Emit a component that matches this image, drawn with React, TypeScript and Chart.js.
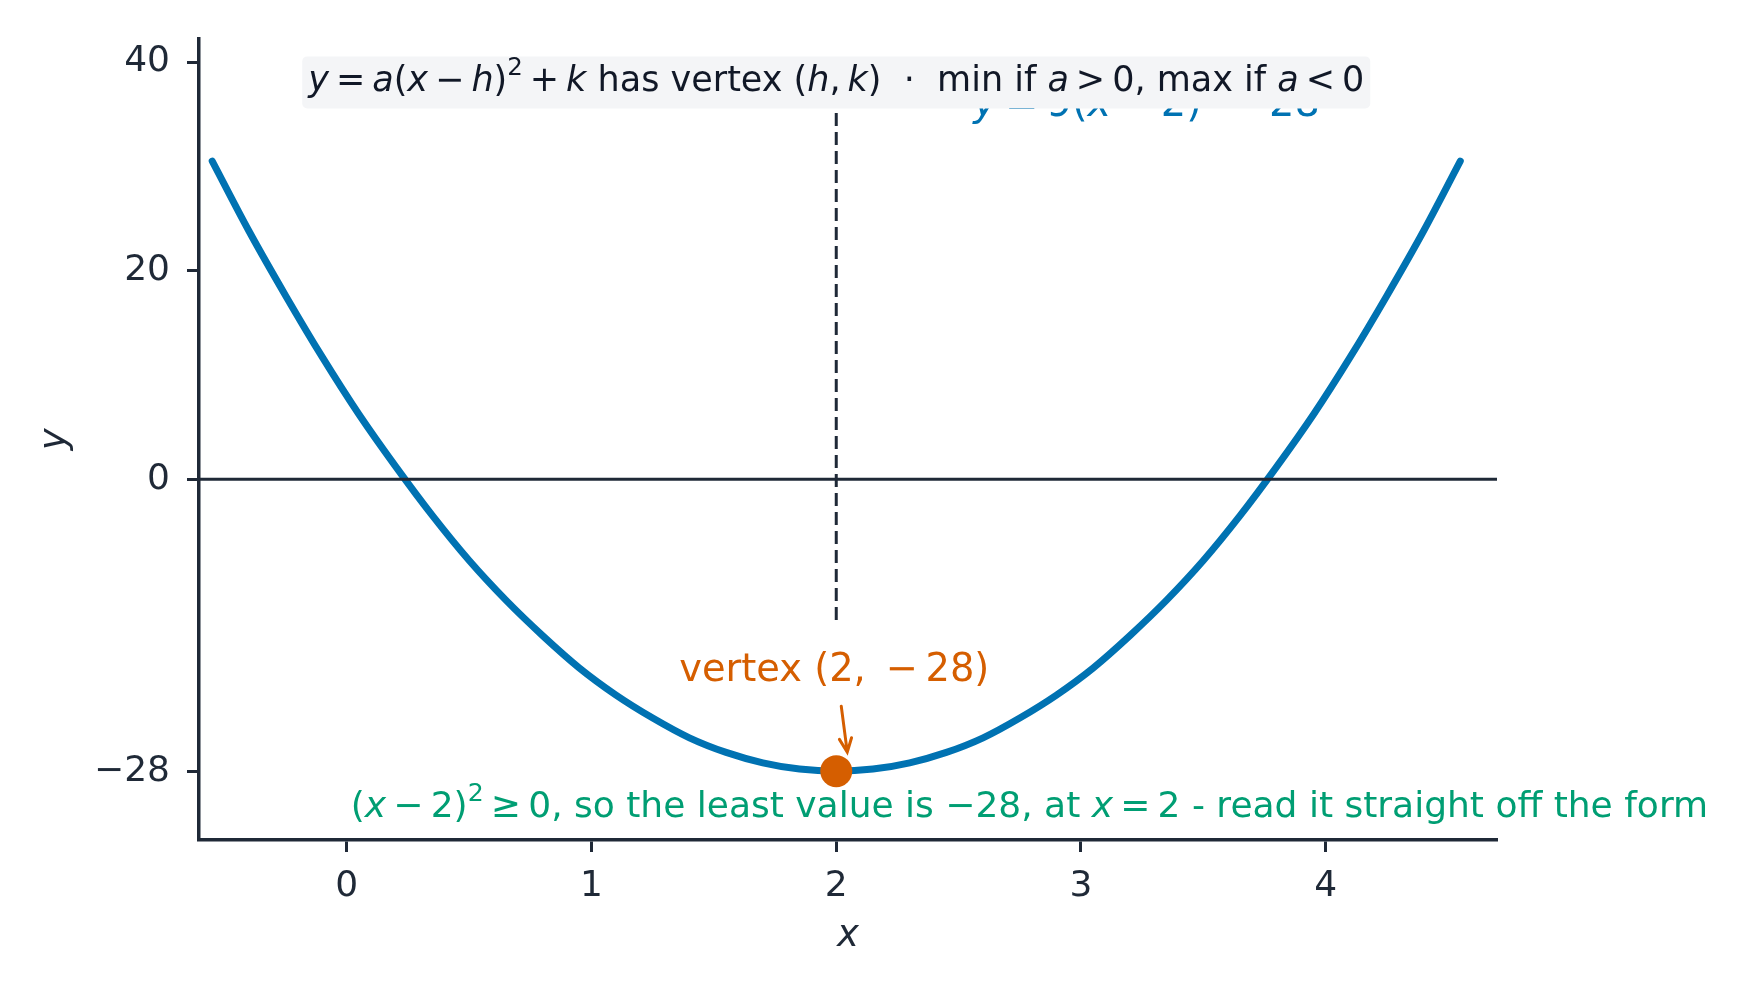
import { useEffect, useRef } from "react";
import { Chart, registerables } from "chart.js";

Chart.register(...registerables);

const W = 1752;
const H = 999;

// curve y = 9(x - 2)^2 - 28
const curveX = [
  -0.55, -0.4, -0.25, -0.1, 0.05, 0.2, 0.35, 0.5, 0.65, 0.8, 0.95, 1.1, 1.25, 1.4, 1.55, 1.7, 1.85,
  2.0, 2.15, 2.3, 2.45, 2.6, 2.75, 2.9, 3.05, 3.2, 3.35, 3.5, 3.65, 3.8, 3.95, 4.1, 4.25, 4.4, 4.55,
];
const curveY = [
  30.5, 23.8, 17.6, 11.7, 6.2, 1.2, -3.5, -7.8, -11.6, -15.0, -18.1, -20.7, -22.9, -24.8, -26.2, -27.2, -27.8,
  -28.0, -27.8, -27.2, -26.2, -24.8, -22.9, -20.7, -18.1, -15.0, -11.6, -7.8, -3.5, 1.2, 6.2, 11.7, 17.6, 23.8, 30.5,
];
const vertexX = [2];
const vertexY = [-28];
const guideX = [2, 2];
const guideY = [-13.5, 40];
const xTicks = [0, 1, 2, 3, 4];
const yTicks = [-28, 0, 20, 40];

const INK = "#1f2937";
const BLUE = "#0072B2";
const ORANGE = "#D55E00";
const GREEN = "#009E73";
const FONT = '"DejaVu Sans", sans-serif';
const TS = "\u2009"; // thin space, like mathtext around operators

type Run = { t: string; it?: boolean; sup?: boolean };

function runFont(r: Run, size: number) {
  const s = r.sup ? size * 0.7 : size;
  return `${r.it ? "italic " : ""}${s}px ${FONT}`;
}

function runsWidth(ctx: CanvasRenderingContext2D, runs: Run[], size: number) {
  let w = 0;
  for (const r of runs) {
    ctx.font = runFont(r, size);
    w += ctx.measureText(r.t).width;
  }
  return w;
}

function drawRuns(
  ctx: CanvasRenderingContext2D,
  runs: Run[],
  x: number,
  y: number,
  size: number,
  color: string,
  align: "left" | "center"
) {
  const w = runsWidth(ctx, runs, size);
  let cx = align === "center" ? x - w / 2 : x;
  ctx.fillStyle = color;
  ctx.textAlign = "left";
  ctx.textBaseline = "middle";
  for (const r of runs) {
    ctx.font = runFont(r, size);
    ctx.fillText(r.t, cx, r.sup ? y - size * 0.38 : y);
    cx += ctx.measureText(r.t).width;
  }
  return w;
}

const curveLabel: Run[] = [
  { t: "y", it: true }, { t: `${TS}=${TS}9(` }, { t: "x", it: true }, { t: `${TS}−${TS}2)` },
  { t: "2", sup: true }, { t: `${TS}−${TS}28` },
];
const boxLabel: Run[] = [
  { t: "y", it: true }, { t: `${TS}=${TS}` }, { t: "a", it: true }, { t: "(" }, { t: "x", it: true },
  { t: `${TS}−${TS}` }, { t: "h", it: true }, { t: ")" }, { t: "2", sup: true }, { t: `${TS}+${TS}` },
  { t: "k", it: true }, { t: " has vertex (" }, { t: "h", it: true }, { t: `,${TS}` }, { t: "k", it: true },
  { t: ")  ·  min if " }, { t: "a", it: true }, { t: `${TS}>${TS}0, max if ` }, { t: "a", it: true },
  { t: `${TS}<${TS}0` },
];
const vertexLabel: Run[] = [{ t: `vertex (2, ${TS}−${TS}28)` }];
const noteLabel: Run[] = [
  { t: "(" }, { t: "x", it: true }, { t: `${TS}−${TS}2)` }, { t: "2", sup: true },
  { t: `${TS}≥${TS}0, so the least value is −28, at ` }, { t: "x", it: true },
  { t: `${TS}=${TS}2 - read it straight off the form` },
];

const notes = {
  id: "notes",
  afterDatasetsDraw(chart: any) {
    const { ctx, chartArea, scales } = chart;
    const xs = scales.x;
    const ys = scales.y;
    ctx.save();

    // zero line
    const y0 = ys.getPixelForValue(0);
    ctx.strokeStyle = INK;
    ctx.lineWidth = 3;
    ctx.beginPath();
    ctx.moveTo(chartArea.left, y0);
    ctx.lineTo(chartArea.right, y0);
    ctx.stroke();

    const vx = xs.getPixelForValue(vertexX[0]);
    const vy = ys.getPixelForValue(vertexY[0]);

    // vertex label and arrow
    drawRuns(ctx, vertexLabel, vx - 2, vy - 100, 38.4, ORANGE, "center");
    const sx = vx + 5, sy = vy - 65, tx = vx + 11, ty = vy - 19;
    ctx.strokeStyle = ORANGE;
    ctx.lineWidth = 3;
    ctx.lineCap = "round";
    ctx.beginPath();
    ctx.moveTo(sx, sy);
    ctx.lineTo(tx, ty);
    const ang = Math.atan2(ty - sy, tx - sx);
    const hl = 15;
    ctx.moveTo(tx - hl * Math.cos(ang - 0.42), ty - hl * Math.sin(ang - 0.42));
    ctx.lineTo(tx, ty);
    ctx.lineTo(tx - hl * Math.cos(ang + 0.42), ty - hl * Math.sin(ang + 0.42));
    ctx.stroke();

    // note under the vertex
    drawRuns(ctx, noteLabel, xs.getPixelForValue(0) + 4, ys.getPixelForValue(-31.5), 36, GREEN, "left");

    // curve label (partly covered by the box)
    drawRuns(ctx, curveLabel, xs.getPixelForValue(2.56), ys.getPixelForValue(35.8), 40, BLUE, "left");

    // boxed form note
    const bx = xs.getPixelForValue(2);
    const by = ys.getPixelForValue(38.05);
    const bw = runsWidth(ctx, boxLabel, 35);
    const padX = 6, bh = 52;
    ctx.fillStyle = "#f4f5f7";
    ctx.beginPath();
    (ctx as any).roundRect(bx - bw / 2 - padX, by - bh / 2, bw + padX * 2, bh, 5);
    ctx.fill();
    drawRuns(ctx, boxLabel, bx, by, 35, "#111827", "center");

    ctx.restore();
  },
};

export default function App() {
  const ref = useRef<HTMLCanvasElement>(null);
  useEffect(() => {
    if (!ref.current) return;
    const chart = new Chart(ref.current, {
      type: "scatter",
      data: {
        datasets: [
          {
            label: "vertex",
            data: vertexX.map((x, i) => ({ x, y: vertexY[i] })),
            pointRadius: 16,
            pointBackgroundColor: ORANGE,
            pointBorderWidth: 0,
            showLine: false,
          },
          {
            label: "y = 9(x − 2)² − 28",
            data: curveX.map((x, i) => ({ x, y: curveY[i] })),
            showLine: true,
            borderColor: BLUE,
            borderWidth: 7,
            borderCapStyle: "round",
            cubicInterpolationMode: "monotone",
            pointRadius: 0,
          },
          {
            label: "axis of symmetry",
            data: guideX.map((x, i) => ({ x, y: guideY[i] })),
            showLine: true,
            borderColor: INK,
            borderWidth: 3,
            borderDash: [13, 6],
            pointRadius: 0,
          },
        ],
      },
      options: {
        responsive: false,
        animation: false,
        devicePixelRatio: 1,
        layout: { padding: { top: 38, right: 255, bottom: 0, left: 0 } },
        scales: {
          x: {
            type: "linear",
            min: -0.604,
            max: 4.7,
            afterBuildTicks: (s: any) => {
              s.ticks = xTicks.map((value) => ({ value }));
            },
            afterFit: (s: any) => {
              s.height = 159;
            },
            grid: { drawOnChartArea: false, drawTicks: true, tickLength: 12, tickWidth: 3, tickColor: INK },
            border: { display: true, color: INK, width: 3.5 },
            ticks: {
              color: INK,
              font: { family: FONT, size: 36 },
              padding: 13,
              maxRotation: 0,
              autoSkip: false,
              callback: (v: any) => String(v),
            },
            title: {
              display: true,
              text: "x",
              color: INK,
              font: { family: FONT, size: 37, style: "italic" },
              padding: { top: 0, bottom: 40 },
            },
          },
          y: {
            type: "linear",
            min: -34.6,
            max: 42.25,
            afterBuildTicks: (s: any) => {
              s.ticks = yTicks.map((value) => ({ value }));
            },
            afterFit: (s: any) => {
              s.width = 199;
            },
            grid: { drawOnChartArea: false, drawTicks: true, tickLength: 12, tickWidth: 3, tickColor: INK },
            border: { display: true, color: INK, width: 3.5 },
            ticks: {
              color: INK,
              font: { family: FONT, size: 36 },
              padding: 17,
              autoSkip: false,
              callback: (v: any) => (v < 0 ? "\u2212" + Math.abs(v) : String(v)),
            },
            title: {
              display: true,
              text: "y",
              color: INK,
              font: { family: FONT, size: 37, style: "italic" },
              padding: { top: 33, bottom: 0 },
            },
          },
        },
        plugins: {
          legend: { display: false },
          tooltip: { enabled: false },
        },
      },
      plugins: [notes],
    });
    return () => chart.destroy();
  }, []);

  return (
    <div style={{ position: "fixed", left: 0, top: 0, width: W, height: H, background: "#fff" }}>
      <canvas ref={ref} width={W} height={H} style={{ width: W, height: H }} />
    </div>
  );
}
